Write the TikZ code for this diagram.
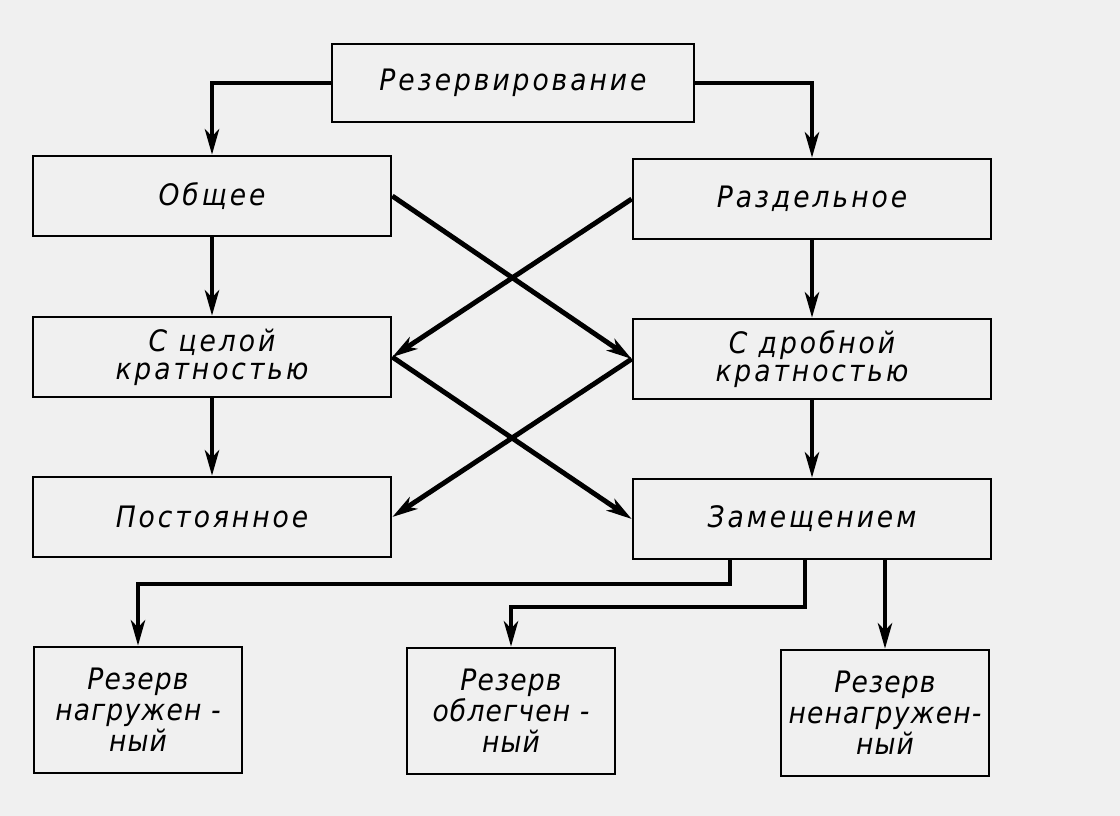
\documentclass[tikz,border=0pt]{standalone}
\usepackage{fontspec}
\usepackage{tikz}
\usetikzlibrary{positioning,arrows.meta}
\newfontfamily\gostfont[LetterSpace=10]{DejaVu Sans Condensed}
\newfontfamily\leaffont[LetterSpace=4]{DejaVu Sans Condensed}
\definecolor{paper}{RGB}{240,240,240}
\tikzset{
  mainbox/.style={rectangle, draw, line width=1.8pt, minimum width=8.95cm, minimum height=2cm,
                  inner sep=2pt, font=\gostfont\itshape\fontsize{21}{20}\selectfont, align=center},
  topbox/.style={mainbox, minimum width=9.05cm, minimum height=1.95cm},
  leafbox/.style={mainbox, minimum width=5.2cm, minimum height=3.15cm, inner sep=0pt,
                  font=\leaffont\itshape\fontsize{21}{22}\selectfont},
  fwd/.style={-{Stealth[length=18pt, width=10pt, inset=5pt]}, line width=3.5pt},
}

\begin{document}
\begin{tikzpicture}[x=0.025cm, y=-0.025cm]
  \fill[paper] (0,0) rectangle (1120,816);
  \useasboundingbox (0,0) rectangle (1120,816);

  \node[topbox] (rez) at (513,83) {Резервирование};
  \node[mainbox] (common) at (212,196) {Общее};
  \node[mainbox] (separate) at (812,199) {Раздельное};
  \node[mainbox] (whole) at (212,357) {С целой\\кратностью};
  \node[mainbox] (fraction) at (812,359) {С дробной\\кратностью};
  \node[mainbox] (constant) at (212,517) {Постоянное};
  \node[mainbox] (substitute) at (812,519) {Замещением};
  \node[leafbox] (loaded) at (138,710) {Резерв\\нагружен -\\ный};
  \node[leafbox] (light) at (511,711) {Резерв\\облегчен -\\ный};
  \node[leafbox] (unloaded) at (885,713) {Резерв\\ненагружен-\\ный};

  \coordinate (split1) at (730,584);
  \coordinate (split2) at (805,607);

  \draw[fwd] (rez.west) -| (common.north);
  \draw[fwd] (rez.east) -| (separate.north);
  \draw[fwd] (common.south) -- (whole.north);
  \draw[fwd] (separate.south) -- (fraction.north);
  \draw[fwd] (whole.south) -- (constant.north);
  \draw[fwd] (fraction.south) -- (substitute.north);
  % crossing links
  \draw[fwd] (common.east) -- (fraction.west);
  \draw[fwd] (separate.west) -- (whole.east);
  \draw[fwd] (whole.east) -- (substitute.west);
  \draw[fwd] (fraction.west) -- (constant.east);
  % kinds of substitution
  \draw[fwd] (substitute.south -| split1) -- (split1) -| (loaded.north);
  \draw[fwd] (substitute.south -| split2) -- (split2) -| (light.north);
  \draw[fwd] (substitute.south -| unloaded.north) -- (unloaded.north);
\end{tikzpicture}
\end{document}
